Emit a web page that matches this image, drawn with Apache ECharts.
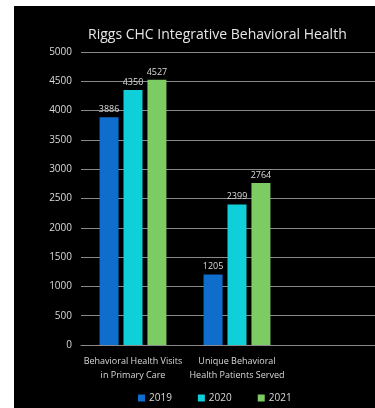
<!DOCTYPE html>
<html>
<head>
<meta charset="utf-8">
<script src="https://cdn.jsdelivr.net/npm/echarts@6/dist/echarts.min.js"></script>
<style>
  html, body { margin: 0; padding: 0; background: #fff; }
  #chart { position: absolute; left: 14px; top: 6px; width: 361px; height: 402px; background: #000; }
</style>
</head>
<body>
<div id="chart"></div>
<script>
// categories and values
var categories = ['Behavioral Health Visits\nin Primary Care', 'Unique Behavioral\nHealth Patients Served'];
var years = ['2019', '2020', '2021'];
var values2019 = [3886, 1205];
var values2020 = [4350, 2399];
var values2021 = [4527, 2764];

var colors = ['#0f6dcb', '#0fd0d9', '#7dcb63'];
var textColor = '#d9d9d9';
var font = 'Open Sans';

var makeSeries = function (name, data, i) {
    return {
        name: name,
        type: 'bar',
        data: data,
        barWidth: 19,
        barGap: '26%',
        itemStyle: { color: colors[i] },
        label: {
            show: true,
            position: 'top',
            distance: 3,
            color: textColor,
            fontFamily: font,
            fontSize: 9
        }
    };
};

var chart = echarts.init(document.getElementById('chart'));
chart.setOption({
    animation: false,
    backgroundColor: '#000',
    title: {
        text: 'Riggs CHC Integrative Behavioral Health',
        left: 69,
        top: 17,
        textStyle: { color: '#e6e6e6', fontFamily: font, fontSize: 14, fontWeight: 'normal' }
    },
    legend: {
        data: years,
        left: 119,
        bottom: 0,
        itemWidth: 7,
        itemHeight: 7,
        itemGap: 26,
        icon: 'rect',
        textStyle: { color: textColor, fontFamily: font, fontSize: 10, padding: [0, 0, 0, -1] }
    },
    grid: { left: 67, right: -18, top: 46, bottom: 63, containLabel: false, outerBoundsMode: 'none' },
    xAxis: {
        type: 'category',
        data: categories,
        max: 2,
        axisLine: { lineStyle: { color: '#8a8a8a' } },
        axisTick: { show: false },
        axisLabel: { color: textColor, fontFamily: font, fontSize: 9, lineHeight: 14, margin: 9, interval: 0 }
    },
    yAxis: {
        type: 'value',
        min: 0,
        max: 5000,
        interval: 500,
        axisLine: { show: false },
        axisTick: { show: false },
        axisLabel: {
            color: textColor, fontFamily: font, fontSize: 10, margin: 9,
            formatter: function (v) { return String(v); }
        },
        splitLine: { lineStyle: { color: '#8a8a8a', width: 1 } }
    },
    series: [
        makeSeries(years[0], values2019, 0),
        makeSeries(years[1], values2020, 1),
        makeSeries(years[2], values2021, 2)
    ]
});
</script>
</body>
</html>
